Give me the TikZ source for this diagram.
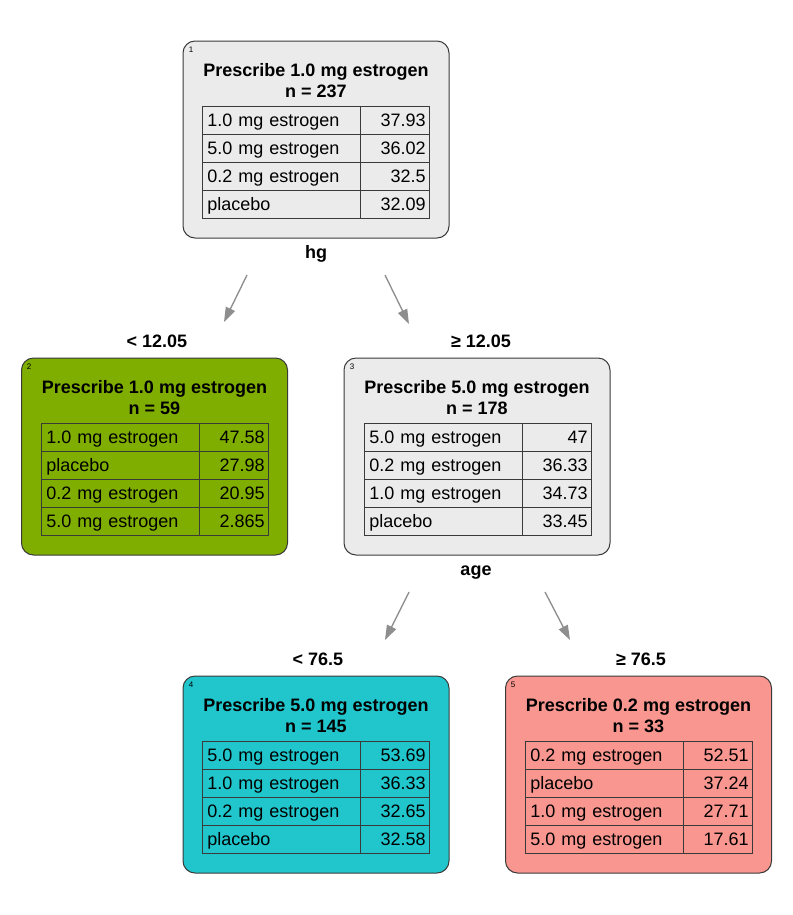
\documentclass[tikz,border=0pt]{standalone}
\usepackage{fontspec}
\setmainfont{Liberation Sans}
\usetikzlibrary{arrows.meta}

\definecolor{boxgrey}{HTML}{EBEBEB}
\definecolor{leafgreen}{HTML}{7FAE00}
\definecolor{leafcyan}{HTML}{20C6CC}
\definecolor{leafpink}{HTML}{F9968F}
\definecolor{edgegrey}{HTML}{3A3A3A}
\definecolor{arrowgrey}{HTML}{8E8E8E}

\begin{document}
\begin{tikzpicture}[x = 0.75pt, y = -0.75pt,
    box/.style = {draw = edgegrey, line width = 0.75pt, rounded corners = 9pt,
        minimum width = 199.5pt, minimum height = 147.75pt},
    idx/.style = {inner sep = 0pt, font = \fontsize{6}{7}\selectfont},
    head/.style = {anchor = base, inner sep = 0pt, font = \fontsize{13.5}{16}\selectfont\bfseries},
    cell/.style = {draw = edgegrey, line width = 0.75pt, minimum height = 21pt, inner ysep = 0pt,
        text height = 12pt, text depth = 3pt, font = \fontsize{13.5}{16}\selectfont},
    labcell/.style = {cell, text width = 110.5pt, inner xsep = 4pt, align = left},
    valcell/.style = {cell, text width = 46.75pt, inner xsep = 2.5pt, align = right},
    split/.style = {anchor = base, inner sep = 0pt, font = \fontsize{13.5}{16}\selectfont\bfseries},
    edge/.style = {draw = arrowgrey, line width = 1pt, -{Triangle[length = 11pt, width = 7.5pt]}}]
    \useasboundingbox (0, 0) rectangle (793, 915);

    % root
    \node[box, fill = boxgrey] (n1) at (316, 139.5) {};
    \node[idx] (n1idx) at (191, 49.5) {1};
    \node[head] (n1head) at (316, 76) {Prescribe 1.0 mg estrogen};
    \node[head] (n1n) at (316, 97.5) {n = 237};
    \foreach \lab/\val [count = \i] in {1.0 mg estrogen/37.93, 5.0 mg estrogen/36.02, 0.2 mg estrogen/32.5, placebo/32.09} {
        \node[labcell] (n1l\i) at (281, 92.5 + 28*\i) {\lab};
        \node[valcell] (n1v\i) at (394.5, 92.5 + 28*\i) {\val};
    }
    \node[split] (hg) at (316, 258) {hg};

    % hg < 12.05
    \node[box, fill = leafgreen] (n2) at (154.5, 456.5) {};
    \node[idx] (n2idx) at (29, 366.5) {2};
    \node[head] (n2head) at (154.5, 393) {Prescribe 1.0 mg estrogen};
    \node[head] (n2n) at (154.5, 414.5) {n = 59};
    \foreach \lab/\val [count = \i] in {1.0 mg estrogen/47.58, placebo/27.98, 0.2 mg estrogen/20.95, 5.0 mg estrogen/2.865} {
        \node[labcell] (n2l\i) at (120, 409.5 + 28*\i) {\lab};
        \node[valcell] (n2v\i) at (233.5, 409.5 + 28*\i) {\val};
    }

    % hg >= 12.05
    \node[box, fill = boxgrey] (n3) at (477, 456.5) {};
    \node[idx] (n3idx) at (352, 366.5) {3};
    \node[head] (n3head) at (477, 393) {Prescribe 5.0 mg estrogen};
    \node[head] (n3n) at (477, 414.5) {n = 178};
    \foreach \lab/\val [count = \i] in {5.0 mg estrogen/47, 0.2 mg estrogen/36.33, 1.0 mg estrogen/34.73, placebo/33.45} {
        \node[labcell] (n3l\i) at (443, 409.5 + 28*\i) {\lab};
        \node[valcell] (n3v\i) at (556.5, 409.5 + 28*\i) {\val};
    }
    \node[split] (age) at (476, 575) {age};

    % age < 76.5
    \node[box, fill = leafcyan] (n4) at (316, 774.5) {};
    \node[idx] (n4idx) at (191, 684.5) {4};
    \node[head] (n4head) at (316, 711) {Prescribe 5.0 mg estrogen};
    \node[head] (n4n) at (316, 732.5) {n = 145};
    \foreach \lab/\val [count = \i] in {5.0 mg estrogen/53.69, 1.0 mg estrogen/36.33, 0.2 mg estrogen/32.65, placebo/32.58} {
        \node[labcell] (n4l\i) at (281, 727.5 + 28*\i) {\lab};
        \node[valcell] (n4v\i) at (394.5, 727.5 + 28*\i) {\val};
    }

    % age >= 76.5
    \node[box, fill = leafpink] (n5) at (638.5, 774.5) {};
    \node[idx] (n5idx) at (513, 684.5) {5};
    \node[head] (n5head) at (638.5, 711) {Prescribe 0.2 mg estrogen};
    \node[head] (n5n) at (638.5, 732.5) {n = 33};
    \foreach \lab/\val [count = \i] in {0.2 mg estrogen/52.51, placebo/37.24, 1.0 mg estrogen/27.71, 5.0 mg estrogen/17.61} {
        \node[labcell] (n5l\i) at (604, 727.5 + 28*\i) {\lab};
        \node[valcell] (n5v\i) at (717.5, 727.5 + 28*\i) {\val};
    }

    % split labels
    \node[split] (lt1) at (157, 347) {< 12.05};
    \node[split] (ge1) at (481, 347) {≥ 12.05};
    \node[split] (lt2) at (318, 665) {< 76.5};
    \node[split] (ge2) at (641, 665) {≥ 76.5};

    % arrows
    \coordinate (a1s) at (247, 275);
    \coordinate (a1e) at (224, 322);
    \coordinate (a2s) at (385, 275);
    \coordinate (a2e) at (409, 324);
    \coordinate (a3s) at (409, 592);
    \coordinate (a3e) at (385, 640);
    \coordinate (a4s) at (545, 592);
    \coordinate (a4e) at (570, 640);
    \draw[edge] (a1s) -- (a1e);
    \draw[edge] (a2s) -- (a2e);
    \draw[edge] (a3s) -- (a3e);
    \draw[edge] (a4s) -- (a4e);
\end{tikzpicture}
\end{document}
